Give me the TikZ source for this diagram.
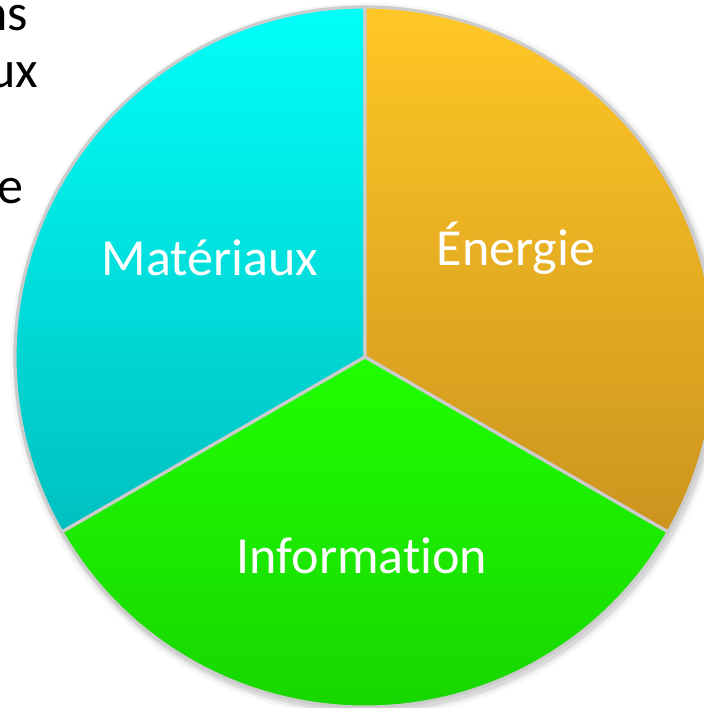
\documentclass[tikz,border=0pt]{standalone}
\usepackage{fontspec}
\setmainfont{Carlito}[Ligatures=NoCommon]
\usetikzlibrary{calc}

\definecolor{mattop}{RGB}{0,255,250}
\definecolor{matbot}{RGB}{0,192,192}
\definecolor{enetop}{RGB}{255,199,38}
\definecolor{enebot}{RGB}{204,148,30}
\definecolor{inftop}{RGB}{32,255,0}
\definecolor{infbot}{RGB}{22,208,0}

\tikzset{
    sector/.style={draw=black!20, line width=0.9pt, line join=round},
    piename/.style={text=white, font=\fontsize{14.8}{17}\selectfont, anchor=base},
    cuttext/.style={text=black, font=\fontsize{14.8}{17}\selectfont, anchor=base east, inner sep=0pt}
}

\begin{document}
\begin{tikzpicture}[x=0.01cm, y=0.01cm]
            \useasboundingbox (0,0) rectangle (704,708);
            \coordinate (c) at (365,351);

            % soft shadow round the disc
            \foreach \r\o in {357/0.03, 354/0.05, 352/0.07} {
                \fill[black, opacity=\o] ($(c)+(2,-3)$) circle (\r);
            }

            \foreach \a\b\t\u in {90/210/mattop/matbot, -30/90/enetop/enebot, 210/330/inftop/infbot} {
                \shade[top color=\t, bottom color=\u] (c) -- ++(\a:350) arc (\a:\b:350) -- cycle;
                \draw[sector] (c) -- ++(\a:350) arc (\a:\b:350) -- cycle;
            }

            \node[piename] (mat) at (210,433) {Matériaux};
            \node[piename] (ene) at (516,443) {Énergie};
            \node[piename] (inf) at (362,135) {Information};

            \node[cuttext] (ns) at (29,678) {ns};
            \node[cuttext] (ux) at (39,621) {ux};
            \node[cuttext] (e) at (24,505) {e};
        \end{tikzpicture}
\end{document}
